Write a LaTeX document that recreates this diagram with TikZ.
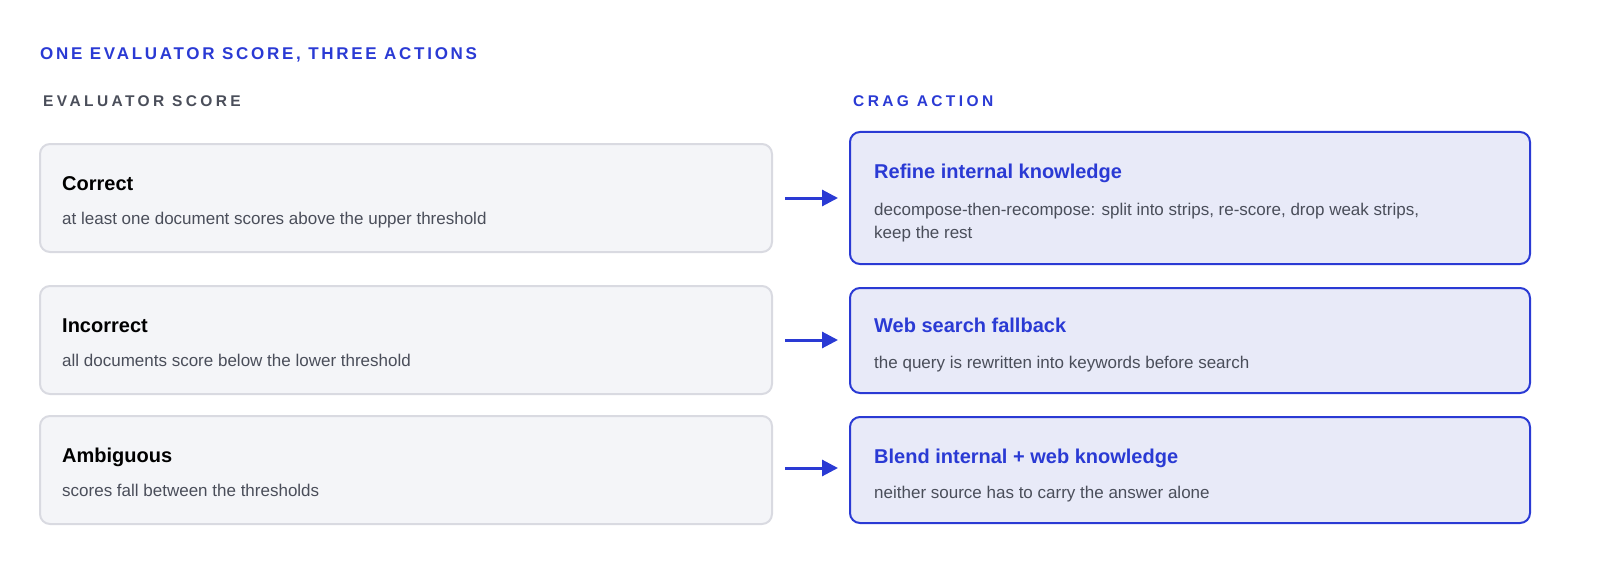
\documentclass[tikz,border=0pt]{standalone}
\usepackage{fontspec}
\setmainfont{Liberation Sans}
\usetikzlibrary{arrows.meta}
\definecolor{bl}{HTML}{2A3AD4}
\definecolor{lf}{HTML}{F4F5F8}
\definecolor{lb}{HTML}{D9DAE1}
\definecolor{rf}{HTML}{E8EAF8}
\definecolor{gt}{HTML}{4A4E5A}
\definecolor{hd}{HTML}{4A4E5A}
\begin{document}
\begin{tikzpicture}[x=1pt,y=-1pt,
 lbox/.style={draw=lb,fill=lf,line width=2pt,rounded corners=10pt},
 rbox/.style={draw=bl,fill=rf,line width=2pt,rounded corners=10pt},
 ttl/.style={anchor=base west,font=\fontsize{20}{24}\selectfont\bfseries,text=black,inner sep=0},
 rttl/.style={ttl,text=bl},
 dsc/.style={anchor=base west,font=\fontsize{17}{24}\selectfont,text=gt,inner sep=0,align=left},
 hdr/.style={anchor=base west,font=\fontsize{15.5}{18}\selectfont\bfseries,inner sep=0},
 arr/.style={-{Triangle[length=16pt,width=16pt]},draw=bl,line width=3pt}]
\useasboundingbox (0,0) rectangle (1600,575);
\node[hdr,text=bl,font=\fontsize{17}{20}\selectfont\bfseries] (title) at (40,60) {\addfontfeature{LetterSpace=16}ONE EVALUATOR SCORE, THREE ACTIONS};
\node[hdr,text=hd] (h1) at (43,107) {\addfontfeature{LetterSpace=22}EVALUATOR SCORE};
\node[hdr,text=bl] (h2) at (853,107) {\addfontfeature{LetterSpace=22}CRAG ACTION};

\draw[lbox] (40,144) rectangle (772,252);
\draw[lbox] (40,286) rectangle (772,394);
\draw[lbox] (40,416) rectangle (772,524);
\draw[rbox] (850,132) rectangle (1530,264);
\draw[rbox] (850,288) rectangle (1530,393);
\draw[rbox] (850,417) rectangle (1530,523);

\node[ttl] (c) at (62,190) {Correct};
\node[dsc] (cd) at (62,224) {at least one document scores above the upper threshold};
\node[ttl] (i) at (62,332) {Incorrect};
\node[dsc] (id) at (62,366) {all documents score below the lower threshold};
\node[ttl] (a) at (62,462) {Ambiguous};
\node[dsc] (ad) at (62,496) {scores fall between the thresholds};

\node[rttl] (r1) at (874,178) {Refine internal knowledge};
\node[dsc] (r1d) at (874,215) {decompose-then-recompose: split into strips, re-score, drop weak strips,};
\node[dsc] (r1e) at (874,238) {keep the rest};
\node[rttl] (r2) at (874,332) {Web search fallback};
\node[dsc] (r2d) at (874,368) {the query is rewritten into keywords before search};
\node[rttl] (r3) at (874,463) {Blend internal + web knowledge};
\node[dsc] (r3d) at (874,498) {neither source has to carry the answer alone};

\coordinate (s1) at (785,198); \coordinate (e1) at (838,198);
\coordinate (s2) at (785,340); \coordinate (e2) at (838,340);
\coordinate (s3) at (785,468); \coordinate (e3) at (838,468);
\draw[arr] (s1) -- (e1);
\draw[arr] (s2) -- (e2);
\draw[arr] (s3) -- (e3);
\end{tikzpicture}
\end{document}
